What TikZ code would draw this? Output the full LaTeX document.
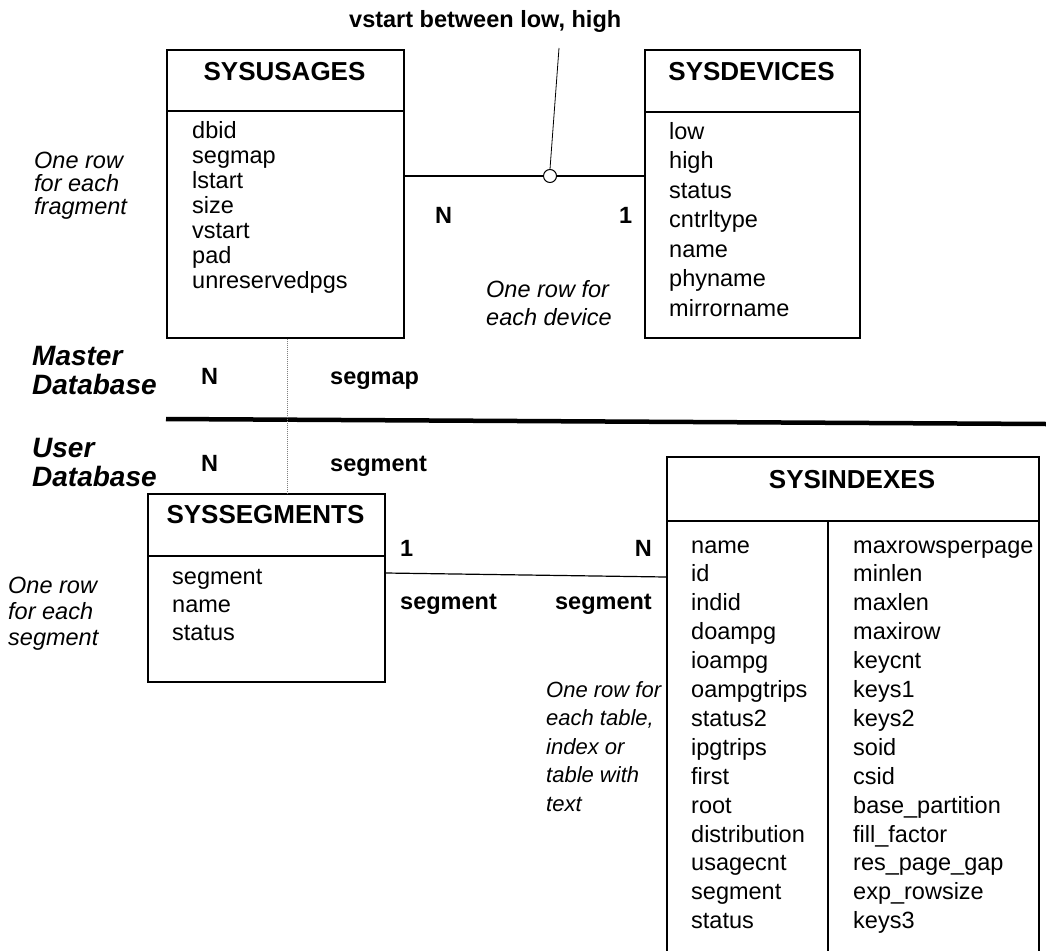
\documentclass[tikz,border=0pt]{standalone}
\usepackage{fontspec}
\setmainfont{Liberation Sans}
\begin{document}
\begin{tikzpicture}[x=1pt,y=-1pt,
  tablebox/.style={draw, line width=1.6pt, rectangle, inner sep=0pt, anchor=north west},
  rule/.style={line width=1.6pt},
  title/.style={font=\bfseries\fontsize{26}{30}\selectfont, anchor=base, inner sep=0pt},
  field/.style={font=\fontsize{23.5}{26}\selectfont, anchor=base west, inner sep=0pt},
  card/.style={font=\bfseries\fontsize{23.5}{26}\selectfont, anchor=base west, inner sep=0pt},
  note/.style={font=\itshape\fontsize{23.5}{26}\selectfont, anchor=base west, inner sep=0pt},
  dbname/.style={font=\bfseries\itshape\fontsize{28}{32}\selectfont, anchor=base west, inner sep=0pt},
  link/.style={line width=1.2pt},
  maplink/.style={line width=1pt, gray, densely dotted},
]
\useasboundingbox (0,0) rectangle (1046,950);
\clip (0,0) rectangle (1046,950);
\fill[white] (0,0) rectangle (1046,950);

% ---------------- SYSUSAGES
\node[tablebox, minimum width=237pt, minimum height=288pt] (usages) at (166,49) {};
\draw[rule] ([yshift=-62pt]usages.north west) -- ([yshift=-62pt]usages.north east);
\node[title] (usagesT) at (284.5,80) {SYSUSAGES};
\foreach \t [count=\i from 0] in {dbid,segmap,lstart,size,vstart,pad,unreservedpgs}
  \node[field] (uf\i) at (192,138+25*\i) {\t};

% ---------------- SYSDEVICES
\node[tablebox, minimum width=215pt, minimum height=288pt] (devices) at (644,49) {};
\draw[rule] ([yshift=-63pt]devices.north west) -- ([yshift=-63pt]devices.north east);
\node[title] (devicesT) at (751.5,80) {SYSDEVICES};
\foreach \t [count=\i from 0] in {low,high,status,cntrltype,name,phyname,mirrorname}
  \node[field] (df\i) at (669,139+29.5*\i) {\t};

% ---------------- SYSSEGMENTS
\node[tablebox, minimum width=237pt, minimum height=188pt] (segments) at (147,493) {};
\draw[rule] ([yshift=-63pt]segments.north west) -- ([yshift=-63pt]segments.north east);
\node[title] (segmentsT) at (265.5,523) {SYSSEGMENTS};
\foreach \t [count=\i from 0] in {segment,name,status}
  \node[field] (sf\i) at (172,584+28*\i) {\t};

% ---------------- SYSINDEXES (runs past the lower edge)
\node[tablebox, minimum width=372pt, minimum height=520pt] (indexes) at (666,456) {};
\draw[rule] ([yshift=-65pt]indexes.north west) -- ([yshift=-65pt]indexes.north east);
\draw[rule] ([xshift=162pt,yshift=-65pt]indexes.north west) -- ([xshift=162pt]indexes.south west);
\node[title] (indexesT) at (852,488) {SYSINDEXES};
\foreach \t [count=\i from 0] in {name,id,indid,doampg,ioampg,oampgtrips,status2,ipgtrips,first,root,distribution,usagecnt,segment,status}
  \node[field] (il\i) at (691,553+28.9*\i) {\t};
\foreach \t [count=\i from 0] in {maxrowsperpage,minlen,maxlen,maxirow,keycnt,keys1,keys2,soid,csid,base\_partition,fill\_factor,res\_page\_gap,exp\_rowsize,keys3}
  \node[field] (ir\i) at (853,553+28.9*\i) {\t};

% ---------------- usages -- devices, with the join condition
\node[circle, draw, line width=1pt, minimum size=13pt, inner sep=0pt] (joint) at (550,176) {};
\draw[link] (joint.west) -- (joint.west -| usages.east);
\draw[link] (joint.east) -- (joint.east -| devices.west);
\node[card] (cond) at (349,28) {vstart between low, high};
\coordinate (condfoot) at (559,48);
\draw[line width=0.8pt] (condfoot) -- (joint.north);
\node[card] (nU) at (435,223) {N};
\node[card] (oneD) at (619,223) {1};
\node[note] (devnote1) at (486,297) {One row for};
\node[note] (devnote2) at (486,325) {each device};

\node[note] (fragnote1) at (34,168) {One row};
\node[note] (fragnote2) at (34,191) {for each};
\node[note] (fragnote3) at (34,214) {fragment};

% ---------------- master / user boundary
\coordinate (divL) at (166,419);
\coordinate (divR) at (1046,424);
\draw[line width=4.5pt] (divL) -- (divR);
\node[dbname] (master1) at (32,365) {Master};
\node[dbname] (master2) at (32,394) {Database};
\node[dbname] (user1) at (32,457) {User};
\node[dbname] (user2) at (32,486) {Database};

\draw[maplink] ([xshift=121pt]usages.south west) -- ([xshift=140pt]segments.north west);
\node[card] (nMap) at (201,384) {N};
\node[card] (segmapL) at (330,384) {segmap};
\node[card] (nSeg) at (201,471) {N};
\node[card] (segmentL) at (330,471) {segment};

\node[note] (segnote1) at (8,593) {One row};
\node[note] (segnote2) at (8,619) {for each};
\node[note] (segnote3) at (8,645) {segment};

% ---------------- segments -- indexes
\draw[link] ([yshift=-80pt]segments.north east) -- ([yshift=-121pt]indexes.north west);
\node[card] (oneS) at (400,556) {1};
\node[card, anchor=base east] (nI) at (652,556) {N};
\node[card] (segA) at (400,609) {segment};
\node[card, anchor=base east] (segB) at (652,609) {segment};

\foreach \t [count=\i from 0] in {One row for,{each table,},index or,table with,text}
  \node[note, font=\itshape\fontsize{22}{26}\selectfont] (tabnote\i) at (546,697+28.5*\i) {\t};
\end{tikzpicture}
\end{document}
